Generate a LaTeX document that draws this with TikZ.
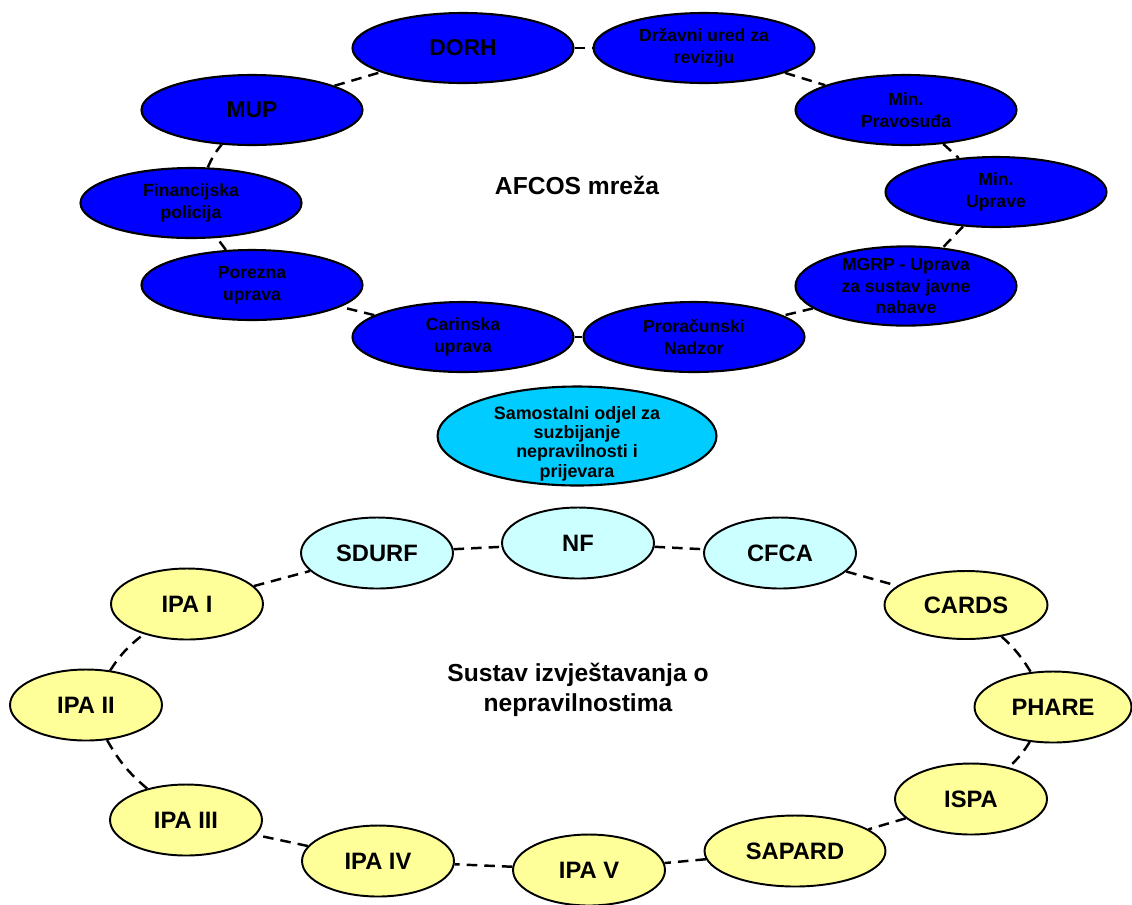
\documentclass[tikz,border=0pt]{standalone}
\usepackage{fontspec}
\setmainfont{Liberation Sans}
\usepackage{tikz}
\usetikzlibrary{shapes.geometric}

\definecolor{afcos blue}{HTML}{0000FF}
\definecolor{office cyan}{HTML}{00CCFF}
\definecolor{body cyan}{HTML}{CCFFFF}
\definecolor{fund yellow}{HTML}{FFFF99}

\begin{document}
\begin{tikzpicture}[x=0.02cm, y=-0.02cm,
  afcos box/.style={ellipse, draw, line width=1.2pt, fill=afcos blue, inner sep=0pt, minimum width=4.42cm, minimum height=1.4cm, align=center, font=\bfseries\fontsize{10}{12.4}\selectfont},
  report box/.style={ellipse, draw, line width=1.1pt, fill=fund yellow, inner sep=0pt, minimum width=3.04cm, minimum height=1.42cm, align=center, font=\bfseries\fontsize{13.5}{16}\selectfont},
  link/.style={dash pattern=on 6pt off 4pt, line width=1.4pt},
  ring label/.style={align=center, font=\bfseries\fontsize{14}{17}\selectfont}]
\useasboundingbox (0,0) rectangle (1132,904);

% AFCOS network
\node[afcos box, font=\bfseries\fontsize{13}{15}\selectfont] (dorh box) at (463,48) {DORH};
\node[afcos box] (revizija box) at (704,48) {Državni ured za\\reviziju};
\node[afcos box, font=\bfseries\fontsize{13}{15}\selectfont] (mup box) at (252,110) {MUP};
\node[afcos box] (pravosudje box) at (906,110) {Min.\\Pravosuđa};
\node[afcos box] (fin policija box) at (191,203) {Financijska\\policija};
\node[afcos box] (uprava box) at (996,192) {Min.\\Uprave};
\node[afcos box] (porezna box) at (252,285) {Porezna\\uprava};
\node[afcos box] (mgrp box) at (906,286) {MGRP - Uprava\\za sustav javne\\nabave};
\node[afcos box] (carinska box) at (463,337) {Carinska\\uprava};
\node[afcos box] (proracun box) at (694,337) {Proračunski\\Nadzor};
\node[ring label] (afcos label) at (577,185) {AFCOS mreža};

\draw[link] (dorh box) -- (revizija box);
\draw[link] (revizija box) -- (pravosudje box);
\draw[link] (pravosudje box) -- (uprava box);
\draw[link] (uprava box) -- (mgrp box);
\draw[link] (mgrp box) -- (proracun box);
\draw[link] (proracun box) -- (carinska box);
\draw[link] (carinska box) -- (porezna box);
\draw[link] (porezna box) -- (fin policija box);
\draw[link] (fin policija box) to[bend left=8] (mup box);
\draw[link] (mup box) -- (dorh box);

% central office
\node[ellipse, draw, line width=1.2pt, fill=office cyan, inner sep=0pt, inner ysep=-15pt, minimum width=5.58cm, minimum height=1.98cm, align=center, font=\bfseries\fontsize{10.2}{11}\selectfont] (odjel box) at (577,436) {\rule{0pt}{16pt}Samostalni odjel za\\suzbijanje\\nepravilnosti i\\prijevara};

% reporting system
\node[report box, fill=body cyan] (sdurf box) at (377,553) {SDURF};
\node[report box, fill=body cyan] (nf box) at (578,543) {NF};
\node[report box, fill=body cyan] (cfca box) at (780,553) {CFCA};
\node[report box, minimum width=3.26cm, minimum height=1.36cm] (cards box) at (966,605) {CARDS};
\node[report box, minimum width=3.14cm] (phare box) at (1053,707) {PHARE};
\node[report box] (ispa box) at (971,799) {ISPA};
\node[report box, minimum width=3.62cm] (sapard box) at (795,851) {SAPARD};
\node[report box] (ipa5 box) at (589,870) {IPA V};
\node[report box] (ipa4 box) at (378,861) {IPA IV};
\node[report box] (ipa3 box) at (186,820) {IPA III};
\node[report box] (ipa2 box) at (86,705) {IPA II};
\node[report box] (ipa1 box) at (187,604) {IPA I};
\node[ring label] (sustav label) at (578,690) {Sustav izvještavanja o\\nepravilnostima};

\draw[link] (sdurf box) -- (nf box);
\draw[link] (nf box) -- (cfca box);
\draw[link] (cfca box) -- (cards box);
\draw[link] (cards box) to[bend left=8] (phare box);
\draw[link] (phare box) to[bend left=8] (ispa box);
\draw[link] (ispa box) -- (sapard box);
\draw[link] (sapard box) -- (ipa5 box);
\draw[link] (ipa5 box) -- (ipa4 box);
\draw[link] (ipa4 box) -- (ipa3 box);
\draw[link] (ipa3 box) to[bend left=10] (ipa2 box);
\draw[link] (ipa2 box) to[bend left=10] (ipa1 box);
\draw[link] (ipa1 box) -- (sdurf box);
\end{tikzpicture}
\end{document}
